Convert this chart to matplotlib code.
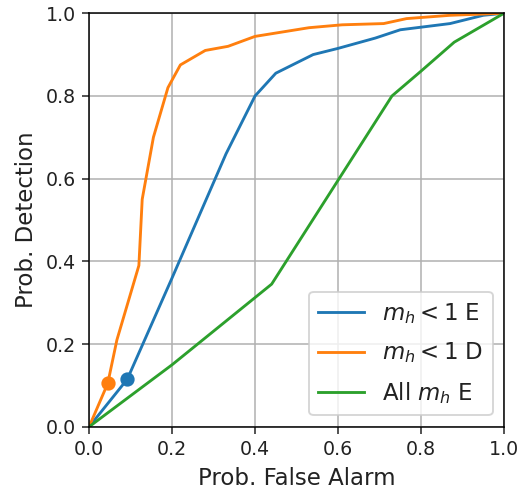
import matplotlib
matplotlib.use("Agg")
import matplotlib.pyplot as plt

# ROC curves: probability of false alarm vs probability of detection
pfa_e = [0.0, 0.092, 0.20, 0.33, 0.40, 0.45, 0.54, 0.60, 0.69, 0.75, 0.87, 0.95, 1.0]
pd_e = [0.0, 0.115, 0.36, 0.66, 0.80, 0.855, 0.90, 0.915, 0.94, 0.96, 0.975, 0.995, 1.0]

pfa_d = [0.0, 0.045, 0.067, 0.12, 0.128, 0.155, 0.19, 0.22, 0.28, 0.335, 0.40, 0.53,
         0.61, 0.71, 0.765, 0.87, 1.0]
pd_d = [0.0, 0.105, 0.21, 0.39, 0.55, 0.70, 0.82, 0.875, 0.91, 0.92, 0.944, 0.965,
        0.972, 0.975, 0.987, 0.995, 1.0]

pfa_all = [0.0, 0.10, 0.20, 0.44, 0.73, 0.80, 0.88, 1.0]
pd_all = [0.0, 0.075, 0.15, 0.345, 0.80, 0.86, 0.93, 1.0]

# operating points marked on the curves
op_e = (0.092, 0.115)
op_d = (0.045, 0.105)

labels = [r"$m_h < 1$ E", r"$m_h < 1$ D", r"All $m_h$ E"]
ticks = [0.0, 0.2, 0.4, 0.6, 0.8, 1.0]

DPI = 137
fig = plt.figure(figsize=(518 / DPI, 490 / DPI), dpi=DPI)
ax = fig.add_axes([0.172, 0.129, 0.801, 0.844])

l1, = ax.plot(pfa_e, pd_e, color="#1f77b4", lw=1.5, label=labels[0])
l2, = ax.plot(pfa_d, pd_d, color="#ff7f0e", lw=1.5, label=labels[1])
l3, = ax.plot(pfa_all, pd_all, color="#2ca02c", lw=1.5, label=labels[2])
ax.plot([op_e[0]], [op_e[1]], "o", color="#1f77b4", ms=6.5)
ax.plot([op_d[0]], [op_d[1]], "o", color="#ff7f0e", ms=6.5)

ax.set_xlim(0, 1)
ax.set_ylim(0, 1)
ax.set_xticks(ticks)
ax.set_yticks(ticks)
ax.tick_params(labelsize=10, colors="#222222")
ax.grid(True, color="#b0b0b0", lw=0.8)
ax.set_xlabel("Prob. False Alarm", fontsize=12, color="#222222")
ax.set_ylabel("Prob. Detection", fontsize=12, color="#222222")
leg = ax.legend(handles=[l1, l2, l3], loc="lower right", fontsize=12,
                labelspacing=0.65)
for t in leg.get_texts():
    t.set_color("#222222")

fig.savefig("out.png", dpi=DPI)
